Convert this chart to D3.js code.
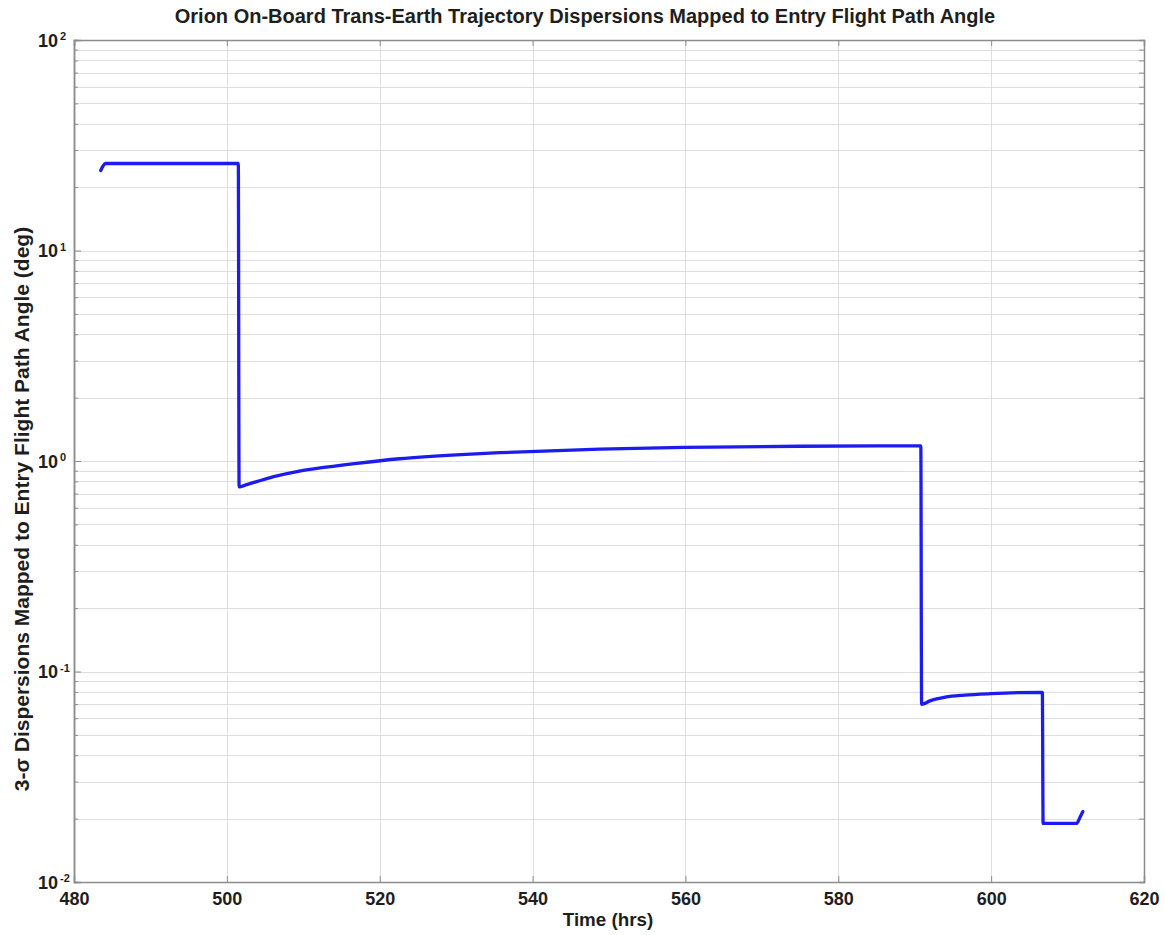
<!DOCTYPE html>
<html>
<head>
<meta charset="utf-8">
<script src="https://cdn.jsdelivr.net/npm/d3@7"></script>
<style>
  body { margin: 0; background: #fff; }
  svg { font-family: "Liberation Sans", Arial, Helvetica, sans-serif; font-weight: bold; }
</style>
</head>
<body>
<svg id="chart" width="1165" height="935"></svg>
<script>
// Trajectory samples: time (hrs) and 3-sigma dispersion (deg)
const timeHrs = [483.5, 483.8, 484.1, 490, 501.5, 501.6, 502.5, 504, 506, 509.5, 513, 517, 522.6, 530, 535.7,
                 548.8, 560, 575, 590.8, 590.9, 592, 594, 596.5, 600, 606.7, 606.8, 611.2, 611.6, 612.0];
const dispersion = [24.0, 25.2, 25.9, 25.9, 25.9, 0.753, 0.77, 0.80, 0.84, 0.896, 0.935, 0.975, 1.025, 1.07, 1.095,
                    1.138, 1.16, 1.175, 1.18, 0.0698, 0.0725, 0.0755, 0.0772, 0.0785, 0.0796, 0.019, 0.019, 0.0202, 0.0216];

const xTicks = [480, 500, 520, 540, 560, 580, 600, 620];
const yDecades = [1e-2, 1e-1, 1e0, 1e1, 1e2];

const titleText = "Orion On-Board Trans-Earth Trajectory Dispersions Mapped to Entry Flight Path Angle";
const xLabel = "Time (hrs)";
const yLabel = "3-\u03C3 Dispersions Mapped to Entry Flight Path Angle (deg)";

const margin = { left: 74, top: 40, right: 21, bottom: 53 };
const W = 1165, H = 935;
const width = W - margin.left - margin.right;
const height = H - margin.top - margin.bottom;

const svg = d3.select("#chart");
const g = svg.append("g").attr("transform", `translate(${margin.left},${margin.top})`);

const x = d3.scaleLinear().domain([480, 620]).range([0, width]);
const y = d3.scaleLog().domain([1e-2, 1e2]).range([height, 0]);

// minor values 2..9 in each decade
const minorVals = [];
yDecades.slice(0, -1).forEach(d => {
    for (let k = 2; k <= 9; k++) minorVals.push(d * k);
});

// Grid
const grid = g.append("g").attr("class", "grid")
    .attr("stroke", "#dedede").attr("stroke-width", 1).attr("fill", "none");

grid.selectAll(".ygrid")
    .data(minorVals.concat(yDecades))
    .enter().append("line")
    .attr("x1", 0).attr("x2", width)
    .attr("y1", d => Math.round(y(d)) + 0.5)
    .attr("y2", d => Math.round(y(d)) + 0.5);

grid.selectAll(".xgrid")
    .data(xTicks)
    .enter().append("line")
    .attr("y1", 0).attr("y2", height)
    .attr("x1", d => Math.round(x(d)) + 0.5)
    .attr("x2", d => Math.round(x(d)) + 0.5);

// Data line
const line = d3.line()
    .x((d, i) => x(timeHrs[i]))
    .y((d, i) => y(dispersion[i]))
    .curve(d3.curveMonotoneX);

g.append("path")
    .datum(dispersion)
    .attr("d", line)
    .attr("fill", "none")
    .attr("stroke", "#1c1cf0")
    .attr("stroke-width", 3.3)
    .attr("stroke-linejoin", "round")
    .attr("stroke-linecap", "round");

// Axes frame and inward ticks
const axisColor = "#8c8c8c";

const xAxis = g.append("g")
    .attr("transform", `translate(0,${height})`)
    .call(d3.axisBottom(x).tickValues(xTicks).tickSize(-6).tickPadding(10).tickFormat(d3.format("d")));

const xTop = g.append("g")
    .call(d3.axisTop(x).tickValues(xTicks).tickSize(-6).tickFormat(""));

const yAxis = g.append("g")
    .call(d3.axisLeft(y).tickValues(yDecades).tickSize(-7).tickFormat(() => "10"));

const yMinorL = g.append("g")
    .call(d3.axisLeft(y).tickValues(minorVals).tickSize(-4).tickFormat(""));

const yRight = g.append("g")
    .attr("transform", `translate(${width},0)`)
    .call(d3.axisRight(y).tickValues(minorVals.concat(yDecades)).tickSize(-5).tickFormat(""));

[xAxis, xTop, yAxis, yMinorL, yRight].forEach(a => {
    a.select(".domain").attr("stroke", axisColor).attr("stroke-width", 1.5);
    a.selectAll(".tick line").attr("stroke", axisColor);
});

xAxis.selectAll(".tick text")
    .attr("font-size", "18px").attr("font-weight", "bold").attr("fill", "#1e1e1e")
    .attr("font-family", "Liberation Sans, Arial, sans-serif");

yAxis.selectAll(".tick text")
    .attr("font-size", "18px").attr("font-weight", "bold").attr("fill", "#1e1e1e")
    .attr("font-family", "Liberation Sans, Arial, sans-serif")
    .attr("text-anchor", "start")
    .attr("x", -36)
    .attr("dy", "0.36em")
    .each(function (d) {
        d3.select(this).append("tspan")
            .attr("dx", "2")
            .attr("dy", "-0.62em")
            .attr("font-size", "11px")
            .text(Math.round(Math.log10(d)));
    });

// Title and labels
svg.append("text")
    .attr("x", 585).attr("y", 23)
    .attr("text-anchor", "middle")
    .attr("font-size", "20px").attr("fill", "#1e1e1e")
    .text(titleText);

svg.append("text")
    .attr("x", 608).attr("y", 926)
    .attr("text-anchor", "middle")
    .attr("font-size", "18.8px").attr("fill", "#1e1e1e")
    .text(xLabel);

svg.append("text")
    .attr("transform", "translate(29,509) rotate(-90)")
    .attr("text-anchor", "middle")
    .attr("font-size", "21px").attr("fill", "#1e1e1e")
    .text(yLabel);
</script>
</body>
</html>
